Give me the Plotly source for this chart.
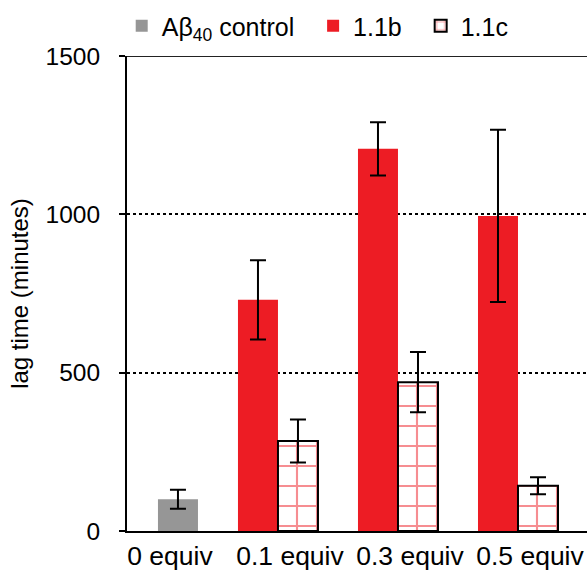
import plotly.graph_objects as go

categories = ["0 equiv", "0.1 equiv", "0.3 equiv", "0.5 equiv"]

control_cat = ["0 equiv"]
control_val = [100]
control_err = [30]

b_cat = ["0.1 equiv", "0.3 equiv", "0.5 equiv"]
b_val = [730, 1207, 995]
b_err = [125, 84, 272]

c_cat = ["0.1 equiv", "0.3 equiv", "0.5 equiv"]
c_val = [284, 470, 143]
c_err = [68, 95, 27]

y_ticks = [0, 500, 1000, 1500]
Y_MAX = 1500

FONT = "Liberation Sans, Arial, sans-serif"
RED = "#ED1C24"
GRAY = "#969696"
BW = 1 / 3
NB = "\u00a0"

err_style = dict(type="data", visible=True, color="black", thickness=2, width=8)

fig = go.Figure()
fig.add_trace(go.Bar(
    x=control_cat, y=control_val, name="Aβ<sub>40</sub> control" + NB * 2,
    marker=dict(color=GRAY, line=dict(width=0)),
    width=BW, offset=0,
    error_y=dict(array=control_err, **err_style),
))
fig.add_trace(go.Bar(
    x=b_cat, y=b_val, name="1.1b" + NB * 2,
    marker=dict(color=RED, line=dict(width=0)),
    width=BW, offset=-BW,
    error_y=dict(array=b_err, **err_style),
))
fig.add_trace(go.Bar(
    x=c_cat, y=c_val, name="1.1c",
    marker=dict(color="white", line=dict(color="black", width=2),
                pattern=dict(shape="+", fgcolor=RED, bgcolor="white", size=20, solidity=0.2)),
    width=BW, offset=0,
    error_y=dict(array=c_err, **err_style),
))

fig.add_shape(type="line", xref="paper", x0=0, x1=1, yref="y", y0=Y_MAX, y1=Y_MAX,
              line=dict(color="#222222", width=2), layer="above")

fig.update_layout(
    width=587, height=571,
    margin=dict(l=127, r=0, t=56, b=38),
    paper_bgcolor="white", plot_bgcolor="white",
    barmode="overlay",
    font=dict(family=FONT, size=24, color="black"),
    showlegend=True,
    legend=dict(orientation="h", x=-0.0115, xanchor="left", y=1.063, yanchor="middle",
                font=dict(size=25), bgcolor="rgba(0,0,0,0)", itemwidth=30,
                traceorder="normal"),
    xaxis=dict(
        type="category", categoryorder="array", categoryarray=categories,
        range=[-0.258, 3.575],
        showline=True, linecolor="black", linewidth=2,
        showgrid=False, ticks="", ticklabelshift=12,
        tickfont=dict(size=26.5), zeroline=False,
    ),
    yaxis=dict(
        range=[0, Y_MAX], tickvals=y_ticks,
        showline=True, linecolor="black", linewidth=2,
        ticks="outside", ticklen=6, tickwidth=2, tickcolor="black",
        showgrid=True, gridcolor="black", gridwidth=2, griddash="dot",
        zeroline=False, tickfont=dict(size=24.5), ticklabelstandoff=14,
        title=dict(text="lag time (minutes)", font=dict(size=24), standoff=10),
    ),
)

fig.write_html("out.html")
